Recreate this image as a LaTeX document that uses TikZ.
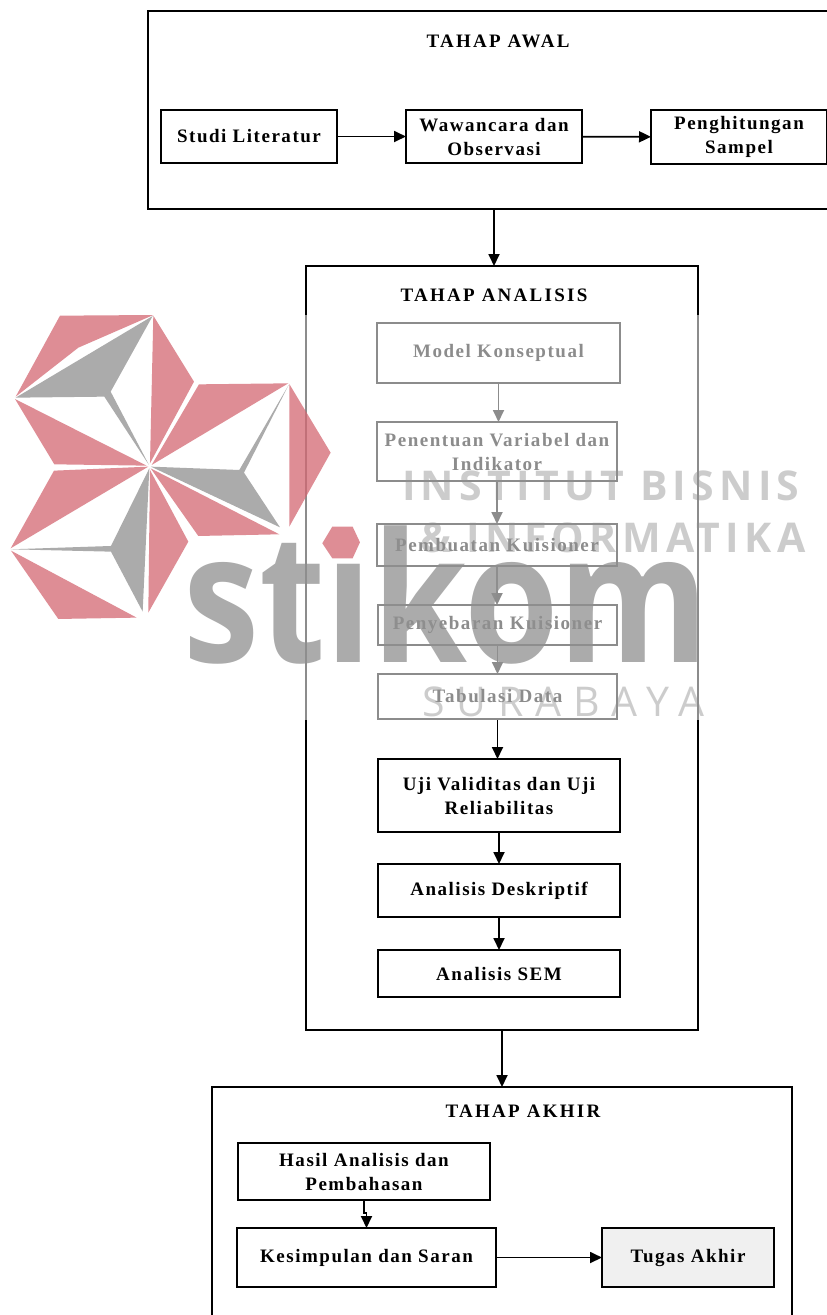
\documentclass[tikz,border=0pt]{standalone}
\usepackage{fontspec}
\setmainfont{Liberation Serif}
\newfontfamily\boxfont[LetterSpace=8]{Liberation Serif}
\newfontfamily\titlefont[LetterSpace=12]{Liberation Serif}
\newfontfamily\wmfont[LetterSpace=12.8]{Open Sans}
\newfontfamily\wmthin[LetterSpace=29]{Open Sans}
\newfontfamily\stkfont{Open Sans}
\usetikzlibrary{positioning,arrows.meta,calc}
\definecolor{wmpink}{RGB}{212,103,114}
\definecolor{wmgray}{RGB}{143,143,143}

\begin{document}
\begin{tikzpicture}[
    x=1pt, y=-1pt,
    stepbox/.style={draw, line width=1.8pt, inner sep=0pt, outer sep=0pt, align=center,
        font=\boxfont\bfseries\fontsize{19}{24}\selectfont},
    stagebox/.style={draw, line width=1.8pt, inner sep=0pt, outer sep=0pt},
    stagetitle/.style={font=\titlefont\bfseries\fontsize{19}{24}\selectfont},
    arr/.style={-{Stealth[length=12pt, width=11pt, inset=0pt]}, line width=1.8pt},
    pinkpart/.style={fill=wmpink, opacity=.75},
    graypart/.style={fill=wmgray, opacity=.75},
]
    \useasboundingbox (0,0) rectangle (827,1315);
    \clip (0,0) rectangle (827,1315);

    % Tahap awal
    \node[stagebox, minimum width=690, minimum height=198] (awal) at (493,110) {};
    \node[stagetitle] (awaltitle) at (498,41) {TAHAP AWAL};
    \node[stepbox, minimum width=176, minimum height=53] (studi) at (249,136.5) {Studi Literatur};
    \node[stepbox, minimum width=176, minimum height=53] (wawancara) at (494,136.5) {Wawancara dan\\Observasi};
    \node[stepbox, minimum width=176, minimum height=54] (hitung) at (739,137) {Penghitungan\\Sampel};

    % Tahap analisis
    \node[stagebox, minimum width=392, minimum height=764] (analisis) at (502,648) {};
    \node[stagetitle] (analisistitle) at (494,295) {TAHAP ANALISIS};
    \node[stepbox, minimum width=243, minimum height=60] (model) at (498.5,353) {Model Konseptual};
    \node[stepbox, minimum width=240, minimum height=59] (variabel) at (497,451.5) {Penentuan Variabel dan\\Indikator};
    \node[stepbox, minimum width=240, minimum height=42] (kuisioner) at (497,545) {Pembuatan Kuisioner};
    \node[stepbox, minimum width=239, minimum height=40] (sebar) at (497.5,625) {Penyebaran Kuisioner};
    \node[stepbox, minimum width=239, minimum height=45] (tabulasi) at (497.5,696.5) {Tabulasi Data};
    \node[stepbox, minimum width=242, minimum height=73] (uji) at (499,795.5) {Uji Validitas dan Uji\\Reliabilitas};
    \node[stepbox, minimum width=242, minimum height=53] (deskriptif) at (499,890.5) {Analisis Deskriptif};
    \node[stepbox, minimum width=242, minimum height=47] (sem) at (499,973.5) {Analisis SEM};

    % Tahap akhir
    \node[stagebox, minimum width=580, minimum height=253] (akhir) at (502,1213.5) {};
    \node[stagetitle] (akhirtitle) at (523,1111) {TAHAP AKHIR};
    \node[stepbox, minimum width=252, minimum height=57] (hasil) at (364,1171.5) {Hasil Analisis dan\\Pembahasan};
    \node[stepbox, minimum width=259, minimum height=59] (simpulan) at (366.5,1257.5) {Kesimpulan dan Saran};
    \node[stepbox, fill=black!6, minimum width=172, minimum height=59] (tugas) at (688,1257.5) {Tugas Akhir};

    % Connections
    \draw[arr] (studi) -- (wawancara);
    \draw[arr] (wawancara) -- (hitung);
    \draw[arr] (wawancara.center |- awal.south) -- (wawancara.center |- analisis.north);
    \draw[arr] (model) -- (model |- variabel.north);
    \draw[arr] (variabel) -- (variabel |- kuisioner.north);
    \draw[arr] (kuisioner) -- (kuisioner |- sebar.north);
    \draw[arr] (sebar) -- (sebar |- tabulasi.north);
    \draw[arr] (tabulasi) -- (tabulasi |- uji.north);
    \draw[arr] (uji) -- (deskriptif);
    \draw[arr] (deskriptif) -- (sem);
    \draw[arr] (analisis) -- (akhir);
    \draw[arr] (hasil.south) -- ++(0,13) -| (simpulan.north);
    \draw[arr] (simpulan) -- (tugas);

    % Watermark
    \fill[white, opacity=.55] (0,315) rectangle (700,720);
    \begin{scope}[x=0.3333pt, y=-0.3333pt, yshift=-300pt]
        \fill[pinkpart] (180,47) -- (460,45) -- (235,143) -- (47,290) -- cycle;
        \fill[graypart] (47,293) -- (458,48) -- (332,275) -- (447,495) -- (313,290) -- cycle;
        \fill[pinkpart] (460,47) -- (582,245) -- (450,490) -- cycle;
        \fill[pinkpart] (45,297) -- (440,497) -- (163,493) -- cycle;
        \fill[pinkpart] (597,253) -- (865,250) -- (455,495) -- cycle;
        \fill[graypart] (453,500) -- (718,510) -- (866,255) -- (732,518) -- (840,682) -- cycle;
        \fill[pinkpart] (868,252) -- (992,458) -- (868,680) -- cycle;
        \fill[pinkpart] (452,505) -- (838,703) -- (595,708) -- cycle;
        \fill[pinkpart] (445,500) -- (162,512) -- (32,745) -- cycle;
        \fill[graypart] (448,505) -- (428,935) -- (333,755) -- (33,748) -- (333,738) -- cycle;
        \fill[pinkpart] (450,510) -- (565,725) -- (445,938) -- cycle;
        \fill[pinkpart] (33,752) -- (410,953) -- (175,957) -- cycle;
        \fill[pinkpart] (997,680) -- (1058,680) -- (1080,727) -- (1058,775) -- (997,775) -- (967,730) -- cycle;
    \end{scope}
    \node[text=wmgray, text opacity=.75, inner sep=0pt, anchor=base west,
          font=\stkfont\bfseries\fontsize{180}{180}\selectfont] (stikom) at (183,662) {\scalebox{.85}[1]{st\symbol{"0131}kom}};
    \node[text=wmgray, text opacity=.45, inner sep=0pt, anchor=base west,
          font=\wmfont\bfseries\fontsize{41}{41}\selectfont] (institut) at (402,500) {INSTITUT BISNIS};
    \node[text=wmgray, text opacity=.45, inner sep=0pt, anchor=base west,
          font=\wmfont\bfseries\fontsize{41}{41}\selectfont] (informatika) at (420,552) {\& INFORMATIKA};
    \node[text=wmgray, text opacity=.45, inner sep=0pt, anchor=base west,
          font=\wmthin\fontsize{41}{41}\selectfont] (surabaya) at (422,716) {SURABAYA};
\end{tikzpicture}
\end{document}
